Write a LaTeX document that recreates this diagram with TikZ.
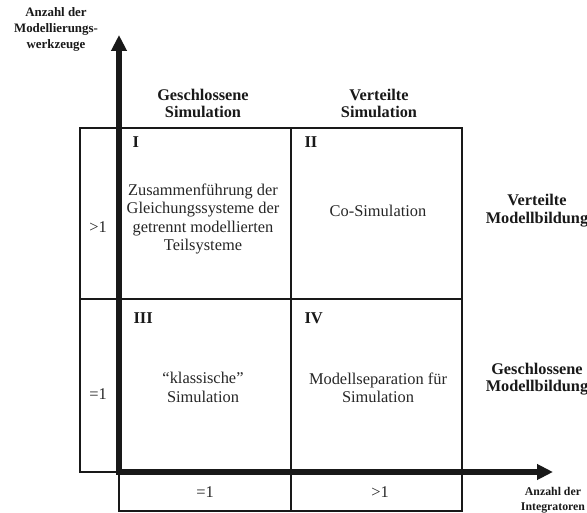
\documentclass[tikz,border=0pt]{standalone}
\usepackage{fontspec}
\setmainfont{Liberation Serif}
\usetikzlibrary{arrows.meta}
\begin{document}
\begin{tikzpicture}[x=1pt,y=-1pt,
  cell/.style={draw=black!90,line width=1.3pt,inner sep=0pt},
  axis/.style={line width=5.5pt,draw=black!90,-{Triangle[length=16pt,width=15pt]}},
  txt/.style={align=center,font=\fontsize{16.4}{18.3}\selectfont,text=black!85},
  hdr/.style={align=center,font=\fontsize{16.3}{17.5}\selectfont\bfseries,text=black!90},
  smalltop/.style={align=center,font=\fontsize{12.9}{16}\selectfont\bfseries,text=black!90},
  smallbot/.style={align=center,font=\fontsize{11.8}{15}\selectfont\bfseries,text=black!90},
  roman/.style={font=\fontsize{16.5}{18}\selectfont\bfseries,text=black!90}]
\useasboundingbox (0,0) rectangle (587,513);
% left column
\node[cell,minimum width=39pt,minimum height=171pt] (L1) at (99.5,213.5) {};
\node[cell,minimum width=39pt,minimum height=173pt] (L2) at (99.5,385.5) {};
% grid
\node[cell,minimum width=172pt,minimum height=171pt] (Q1) at (205,213.5) {};
\node[cell,minimum width=171pt,minimum height=171pt] (Q2) at (376.5,213.5) {};
\node[cell,minimum width=172pt,minimum height=173pt] (Q3) at (205,385.5) {};
\node[cell,minimum width=171pt,minimum height=173pt] (Q4) at (376.5,385.5) {};
% bottom row
\node[cell,minimum width=172pt,minimum height=39pt] (B1) at (205,491.5) {};
\node[cell,minimum width=171pt,minimum height=39pt] (B2) at (376.5,491.5) {};
% axes
\coordinate (origin) at (119,472);
\coordinate (ytip) at (119,35);
\coordinate (xtip) at (553,472);
\draw[axis] (119,474.75) -- (ytip);
\draw[axis] (116.25,472) -- (xtip);
% roman numerals
\node[roman,anchor=west] (r1) at (129,142) {I};
\node[roman,anchor=west] (r2) at (301,142) {II};
\node[roman,anchor=west] (r3) at (130,318) {III};
\node[roman,anchor=west] (r4) at (301,318) {IV};
% quadrant texts
\node[txt] (t1) at (203,219) {Zusammenführung der\\Gleichungssysteme der\\getrennt modellierten\\Teilsysteme};
\node[txt] (t2) at (378,211) {Co-Simulation};
\node[txt] (t3) at (203,387.5) {“klassische”\\Simulation};
\node[txt] (t4) at (378,387.5) {Modellseparation für\\Simulation};
% left values
\node[txt] (v1) at (98,227) {>1};
\node[txt] (v2) at (98,394) {=1};
% bottom values
\node[txt] (h1) at (205,492) {=1};
\node[txt] (h2) at (380,492) {>1};
% headers
\node[hdr] (g1) at (203,103.5) {Geschlossene\\Simulation};
\node[hdr] (g2) at (379,103.5) {Verteilte\\Simulation};
\node[hdr] (m1) at (537,210.5) {Verteilte\\Modellbildung};
\node[hdr] (m2) at (537,379) {Geschlossene\\Modellbildung};
% axis labels
\node[smalltop] (ay) at (56,29) {Anzahl der\\Modellierungs-\\werkzeuge};
\node[smallbot] (ax) at (553,500.5) {Anzahl der\\Integratoren};
\end{tikzpicture}
\end{document}
